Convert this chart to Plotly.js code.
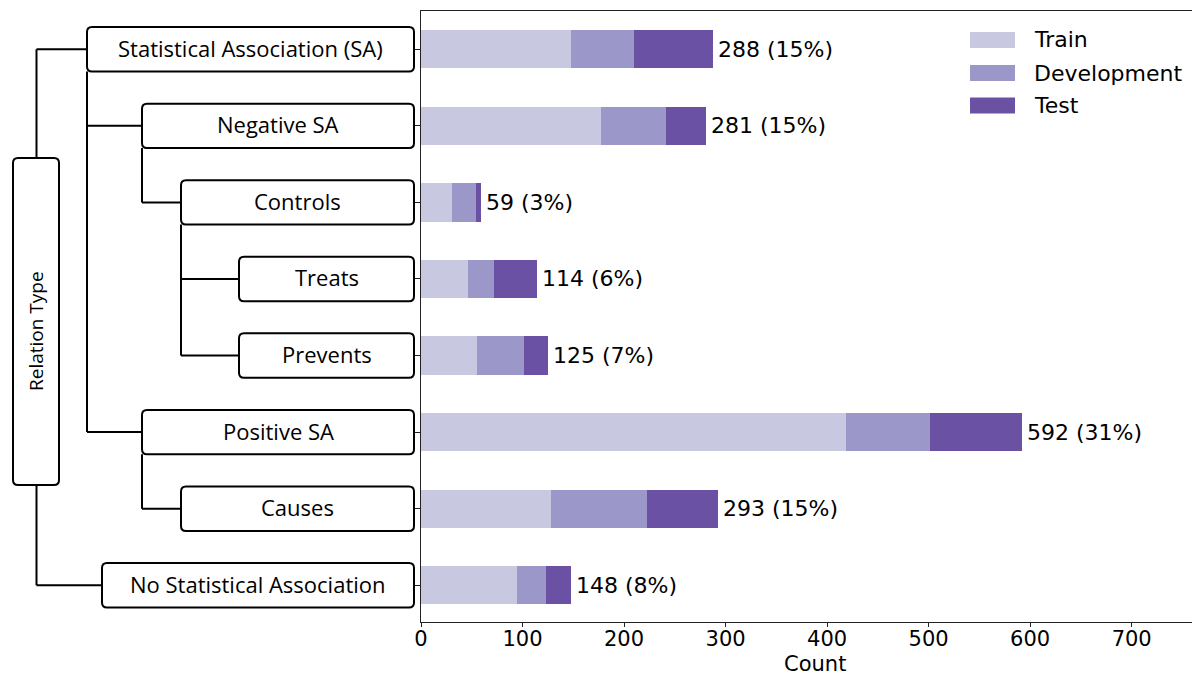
<!DOCTYPE html>
<html>
<head>
<meta charset="utf-8">
<script src="https://cdn.plot.ly/plotly-3.0.1.min.js"></script>
<style>html,body{margin:0;padding:0;background:#fff;}#chart{width:1192px;height:676px;}</style>
</head>
<body>
<div id="chart"></div>
<script>
// ---------- data ----------
const categories = ["Statistical Association (SA)", "Negative SA", "Controls", "Treats", "Prevents", "Positive SA", "Causes", "No Statistical Association"];
const parents = [-1, 0, 1, 2, 2, 0, 5, -1];   // tree structure (index of parent category, -1 = root)
const train = [148, 177, 31, 46, 55, 419, 128, 95];
const development = [62, 64, 23, 26, 46, 82, 95, 28];
const test = [78, 40, 5, 42, 24, 91, 70, 25];
const seriesNames = ["Train", "Development", "Test"];
const xTicks = [0, 100, 200, 300, 400, 500, 600, 700];
const rootLabel = "Relation Type";
const xTitle = "Count";

// ---------- layout config ----------
const W = 1192, H = 676;
const ML = 421, MT = 11, MB = 54;
const PW = W - ML, PH = H - MT - MB;
const colors = ["#c8c8e1", "#9b97c8", "#6a51a3"];
const yR = [7.48, -0.5];
const xMax = 759.4;
const boxLeftPx = [87, 142, 181, 239, 239, 142, 181, 102];
const boxRightPx = 414;
const boxHalf = 0.29; // in category units
const rootBox = {x0: 13, x1: 59, y0: 158, y1: 485};
const rootLineX = 36.5;
const radiusPx = 5;
const treeFont = {family: "Open Sans", size: 22, color: "#000"};
const mplFont = {family: "DejaVu Sans", size: 22, color: "#000"};

const px2x = px => (px - ML) / PW;
const py2y = py => (MT + PH - py) / PH;
const idx2y = i => (yR[0] - i) / (yR[0] - yR[1]);
const unitPx = PH / (yR[0] - yR[1]);

const series = [train, development, test];
const totals = categories.map((c, i) => train[i] + development[i] + test[i]);
const grand = totals.reduce((a, b) => a + b, 0);

const traces = series.map((vals, k) => ({
  type: "bar", orientation: "h", name: seriesNames[k],
  y: categories, x: vals, width: 0.5,
  marker: {color: colors[k], line: {width: 0}},
  hoverinfo: "skip", showlegend: false
}));

function roundRect(x0p, x1p, y0p, y1p, r) {
  const a = px2x(x0p), b = px2x(x1p);
  const rx = r / PW, ry = r / PH;
  const top = py2y(y0p), bot = py2y(y1p);
  return `M${a + rx},${top} L${b - rx},${top} Q${b},${top} ${b},${top - ry} L${b},${bot + ry} Q${b},${bot} ${b - rx},${bot} L${a + rx},${bot} Q${a},${bot} ${a},${bot + ry} L${a},${top - ry} Q${a},${top} ${a + rx},${top} Z`;
}

const shapes = [];
const annotations = [];
const lineStyle = {color: "#000", width: 2};
const boxLine = {color: "#000", width: 2};

const cPx = i => MT + (i - yR[1]) * unitPx;

// connectors
categories.forEach((c, i) => {
  const p = parents[i];
  const fromX = p < 0 ? rootLineX : boxLeftPx[p];
  shapes.push({type: "line", xref: "paper", yref: "paper", x0: px2x(fromX), x1: px2x(boxLeftPx[i]), y0: idx2y(i), y1: idx2y(i), line: lineStyle});
});
categories.forEach((c, p) => {
  const kids = parents.map((q, i) => q === p ? i : -1).filter(i => i >= 0);
  if (kids.length) {
    const last = Math.max(...kids);
    shapes.push({type: "line", xref: "paper", yref: "paper", x0: px2x(boxLeftPx[p]), x1: px2x(boxLeftPx[p]), y0: idx2y(p + boxHalf), y1: idx2y(last), line: lineStyle});
  }
});
const rootKids = parents.map((q, i) => q < 0 ? i : -1).filter(i => i >= 0);
shapes.push({type: "line", xref: "paper", yref: "paper", x0: px2x(rootLineX), x1: px2x(rootLineX), y0: idx2y(Math.min(...rootKids)), y1: py2y(rootBox.y0), line: lineStyle});
shapes.push({type: "line", xref: "paper", yref: "paper", x0: px2x(rootLineX), x1: px2x(rootLineX), y0: py2y(rootBox.y1), y1: idx2y(Math.max(...rootKids)), line: lineStyle});

// boxes
categories.forEach((c, i) => {
  const yc = cPx(i);
  shapes.push({type: "path", xref: "paper", yref: "paper", path: roundRect(boxLeftPx[i], boxRightPx, yc - boxHalf * unitPx, yc + boxHalf * unitPx, radiusPx), line: boxLine, fillcolor: "#fff"});
  annotations.push({xref: "paper", yref: "paper", x: px2x((boxLeftPx[i] + boxRightPx) / 2), y: idx2y(i) + 1.5 / PH, text: c, showarrow: false, xanchor: "center", yanchor: "middle", font: treeFont});
});
shapes.push({type: "path", xref: "paper", yref: "paper", path: roundRect(rootBox.x0, rootBox.x1, rootBox.y0, rootBox.y1, radiusPx), line: boxLine, fillcolor: "#fff"});
annotations.push({xref: "paper", yref: "paper", x: px2x((rootBox.x0 + rootBox.x1) / 2), y: py2y(331), text: rootLabel, textangle: -90, showarrow: false, xanchor: "center", yanchor: "middle", font: {family: "Open Sans", size: 19, color: "#000"}});

// bar total labels
categories.forEach((c, i) => {
  annotations.push({xref: "x", yref: "y", x: totals[i], y: c, text: `${totals[i]} (${Math.round(totals[i] / grand * 100)}%)`, showarrow: false, xanchor: "left", yanchor: "middle", xshift: 3, font: mplFont});
});

// legend
const legRows = [40, 73, 105.5];
seriesNames.forEach((n, k) => {
  shapes.push({type: "rect", xref: "paper", yref: "paper", x0: px2x(970), x1: px2x(1015), y0: py2y(legRows[k] - 8), y1: py2y(legRows[k] + 8), fillcolor: colors[k], line: {width: 0}});
  annotations.push({xref: "paper", yref: "paper", x: px2x(1032), y: py2y(legRows[k]), text: n, showarrow: false, xanchor: "left", yanchor: "middle", font: mplFont});
});

// x-axis title
annotations.push({xref: "paper", yref: "paper", x: px2x(815), y: py2y(664), text: xTitle, showarrow: false, xanchor: "center", yanchor: "middle", borderpad: 0, font: {family: "DejaVu Sans", size: 21, color: "#000"}});

const layout = {
  width: W, height: H,
  margin: {l: ML, r: 0, t: MT, b: MB, pad: 0},
  paper_bgcolor: "#fff", plot_bgcolor: "#fff",
  barmode: "stack", showlegend: false,
  font: {family: "DejaVu Sans", size: 21, color: "#000"},
  xaxis: {range: [0, xMax], tickvals: xTicks, ticktext: xTicks.map(String), showgrid: false, zeroline: false,
          showline: true, linecolor: "#222", linewidth: 1, mirror: true, ticks: "outside", ticklen: 4, tickcolor: "#222",
          ticklabelstandoff: -6,
          tickfont: {family: "DejaVu Sans", size: 21, color: "#000"}},
  yaxis: {type: "category", categoryarray: categories, categoryorder: "array", range: yR, showgrid: false, zeroline: false,
          showline: true, linecolor: "#222", linewidth: 1, ticks: "outside", ticklen: 5, tickcolor: "#222", showticklabels: false},
  shapes: shapes, annotations: annotations
};

Plotly.newPlot("chart", traces, layout, {staticPlot: true, displayModeBar: false});
</script>
</body>
</html>
